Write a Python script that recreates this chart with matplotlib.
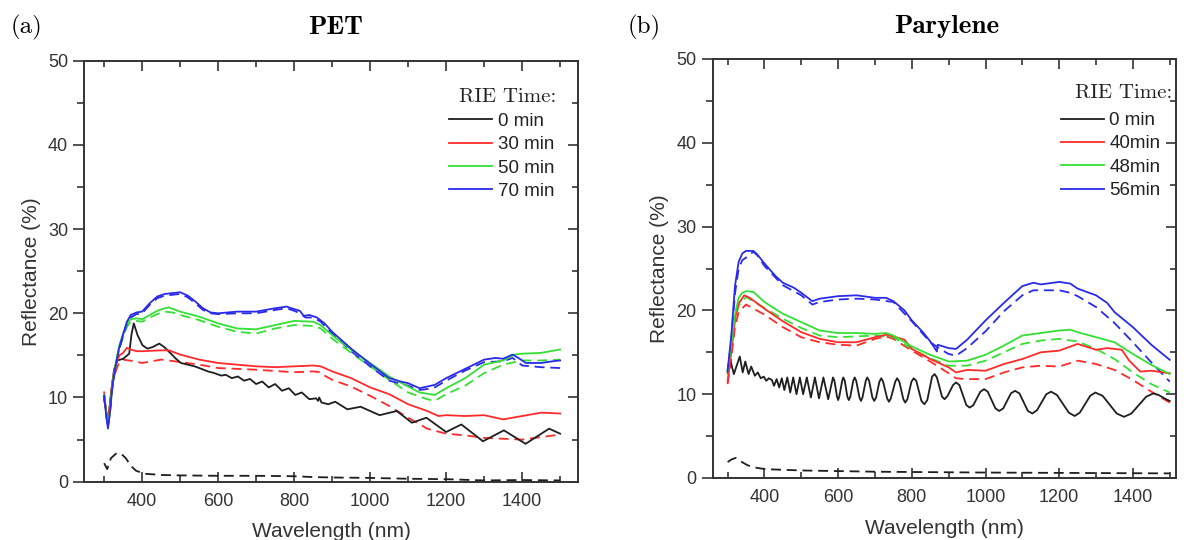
import matplotlib
matplotlib.use("Agg")
import matplotlib.pyplot as plt
from matplotlib.ticker import MultipleLocator

# ---------------- PET (a) ----------------
pet_legend = ["0 min", "30 min", "50 min", "70 min"]

pet_k_x = [300, 305, 310, 318, 326, 335, 350, 366, 372, 378, 388, 401, 414, 428, 445, 458, 476, 489, 502,
           520, 538, 556, 573, 590, 608, 620, 636, 652, 668, 684, 700, 716, 733, 750, 768, 786, 803, 820,
           840, 858, 863, 866, 872, 890, 908, 940, 975, 1025, 1070, 1110, 1148, 1200, 1240, 1297, 1352,
           1409, 1471, 1500]
pet_k_y = [10.0, 8.5, 6.8, 10.5, 13.3, 14.4, 14.6, 15.2, 17.5, 18.8, 17.4, 16.2, 15.8, 16.0, 16.4, 16.0, 15.2,
           14.6, 14.1, 13.9, 13.7, 13.4, 13.1, 12.9, 12.6, 12.7, 12.3, 12.5, 12.0, 12.2, 11.6, 11.9, 11.2,
           11.6, 10.8, 11.1, 10.3, 10.6, 9.8, 9.9, 9.6, 10.0, 9.4, 9.2, 9.5, 8.6, 8.9, 7.9, 8.4, 7.0, 7.6,
           5.9, 6.8, 4.8, 6.1, 4.5, 6.3, 5.7]
pet_kd_x = [300, 308, 318, 333, 345, 357, 370, 384, 406, 450, 500, 600, 700, 800, 850, 900, 1000, 1100,
            1200, 1300, 1400, 1500]
pet_kd_y = [2.2, 1.5, 2.8, 3.4, 3.3, 2.8, 1.9, 1.3, 0.95, 0.8, 0.75, 0.7, 0.7, 0.65, 0.55, 0.5, 0.45, 0.35,
            0.3, 0.15, 0.2, 0.15]

pet_r_x = [300, 305, 310, 316, 322, 331, 340, 350, 360, 370, 385, 400, 450, 470, 500, 550, 600, 650, 700,
           750, 800, 850, 870, 900, 950, 1000, 1050, 1100, 1150, 1180, 1200, 1250, 1300, 1350, 1400, 1450, 1500]
pet_r_y = [10.6, 8.5, 7.2, 9.5, 12.0, 14.0, 15.0, 15.3, 15.9, 15.7, 15.5, 15.5, 15.6, 15.6, 15.1, 14.5, 14.1,
           13.9, 13.7, 13.6, 13.7, 13.8, 13.7, 13.1, 12.3, 11.2, 10.4, 9.2, 8.4, 7.8, 7.9, 7.8, 7.9, 7.4,
           7.8, 8.2, 8.1]
pet_rd_x = [300, 305, 310, 316, 322, 331, 340, 350, 380, 400, 450, 470, 500, 550, 600, 700, 800, 850, 870,
            880, 900, 950, 1000, 1050, 1100, 1150, 1200, 1250, 1300, 1350, 1400, 1450, 1500]
pet_rd_y = [10.3, 8.3, 7.0, 9.2, 11.6, 13.2, 14.2, 14.5, 14.3, 14.1, 14.5, 14.4, 14.2, 13.9, 13.5, 13.3,
            13.0, 13.1, 13.0, 12.6, 12.1, 11.3, 10.2, 9.0, 7.6, 6.3, 5.7, 5.5, 5.2, 5.1, 5.0, 5.3, 5.6]

pet_g_x = [300, 305, 310, 316, 322, 331, 340, 350, 360, 370, 385, 400, 420, 440, 460, 470, 500, 550, 600,
           650, 700, 750, 800, 850, 870, 900, 950, 1000, 1050, 1100, 1130, 1170, 1200, 1250, 1300, 1350,
           1380, 1400, 1450, 1500]
pet_g_y = [10.3, 8.3, 6.7, 8.8, 11.8, 14.2, 16.2, 17.6, 18.8, 19.3, 19.4, 19.3, 19.8, 20.3, 20.6, 20.7,
           20.2, 19.6, 18.8, 18.2, 18.1, 18.6, 19.1, 19.0, 18.6, 17.4, 15.7, 14.1, 12.5, 11.3, 10.6, 10.3,
           11.1, 12.3, 13.9, 14.4, 15.1, 15.2, 15.3, 15.7]
pet_gd_x = [300, 305, 310, 316, 322, 331, 340, 350, 360, 370, 385, 400, 420, 440, 460, 480, 500, 550, 600,
            650, 700, 750, 800, 850, 870, 900, 950, 1000, 1050, 1100, 1150, 1170, 1200, 1250, 1300, 1350,
            1400, 1450, 1500]
pet_gd_y = [10.1, 8.2, 6.7, 8.6, 11.5, 13.9, 15.8, 17.2, 18.4, 19.0, 19.1, 19.0, 19.5, 19.9, 20.2, 20.1,
            19.8, 19.2, 18.4, 17.8, 17.6, 18.2, 18.6, 18.5, 18.2, 17.0, 15.3, 13.7, 12.1, 10.6, 9.8, 9.6,
            10.4, 11.4, 12.9, 13.9, 14.4, 14.4, 14.5]

pet_b_x = [300, 305, 310, 316, 322, 331, 340, 350, 360, 370, 385, 400, 420, 440, 460, 480, 500, 520, 540,
           560, 580, 600, 650, 700, 750, 780, 800, 815, 825, 840, 860, 880, 900, 950, 1000, 1050, 1080,
           1100, 1130, 1150, 1170, 1200, 1250, 1300, 1330, 1350, 1375, 1390, 1410, 1450, 1480, 1500]
pet_b_y = [10.2, 8.0, 6.3, 8.5, 11.5, 14.0, 16.0, 17.5, 19.0, 19.8, 20.1, 20.2, 21.2, 22.0, 22.3, 22.4,
           22.5, 22.1, 21.4, 20.6, 20.1, 20.0, 20.2, 20.2, 20.6, 20.8, 20.5, 20.3, 19.7, 19.8, 19.5, 18.8,
           17.8, 15.8, 14.0, 12.3, 11.9, 11.7, 11.1, 11.3, 11.5, 12.3, 13.4, 14.5, 14.7, 14.6, 15.1, 14.7,
           14.1, 14.1, 14.3, 14.4]
pet_bd_x = [300, 305, 310, 316, 322, 331, 340, 350, 360, 370, 385, 400, 420, 440, 460, 480, 500, 520, 540,
            560, 580, 600, 650, 700, 750, 780, 800, 815, 830, 850, 870, 900, 950, 1000, 1050, 1100, 1130,
            1150, 1170, 1200, 1250, 1300, 1350, 1375, 1400, 1450, 1500]
pet_bd_y = [10.0, 8.0, 6.5, 8.5, 11.3, 13.8, 15.8, 17.3, 18.7, 19.5, 19.9, 20.0, 21.0, 21.8, 22.1, 22.2,
            22.3, 21.9, 21.2, 20.4, 20.0, 19.9, 20.0, 20.0, 20.4, 20.6, 20.3, 20.0, 19.5, 19.5, 19.0, 17.6,
            15.5, 13.7, 12.0, 11.4, 10.9, 11.0, 11.2, 12.0, 13.2, 14.2, 14.3, 14.7, 13.8, 13.6, 13.5]

# ---------------- Parylene (b) ----------------
par_legend = ["0 min", "40min", "48min", "56min"]

par_k_x = [300, 307, 317, 333, 341, 348, 357, 364, 374, 382, 390, 398, 405, 412, 420, 426, 433, 440, 447,
           454, 462, 470, 478, 487, 496, 505, 515, 526, 537, 548, 560, 573, 586,
           590, 597, 600, 603, 611, 614, 618, 625, 629, 633, 641, 645, 649, 658, 662, 666, 675, 679,
           684, 693, 698, 703, 712, 717, 722, 733, 738, 743, 755, 760, 766, 777, 782, 788, 799, 805,
           812, 826, 834, 842, 855, 862, 868, 882, 889, 897, 912, 920,
           929, 948, 957, 967, 986, 996, 1006, 1027, 1037, 1048, 1069, 1080, 1092, 1115, 1127, 1140, 1165,
           1178, 1194, 1226, 1242, 1256, 1284, 1298, 1318, 1356, 1376, 1396, 1436, 1456, 1470, 1490, 1500]
par_k_y = [12.8, 14.1, 12.4, 14.5, 12.6, 13.9, 12.4, 13.3, 12.2, 12.6, 11.9, 12.1, 11.6, 11.9, 11.7, 11.0,
           11.8, 10.8, 11.9, 10.5, 12.0, 10.2, 12.0, 10.0, 12.0, 10.0, 12.0, 9.6, 12.0, 9.5, 12.0, 9.4, 12.0,
           11.6, 9.7, 9.3, 9.7, 11.6, 12.0, 11.6, 9.7, 9.3, 9.7, 11.6, 12.0, 11.6, 9.6, 9.2, 9.6, 11.6, 12.0,
           11.6, 9.6, 9.2, 9.6, 11.5, 11.9, 11.5, 9.5, 9.1, 9.5, 11.5, 11.9, 11.5, 9.4, 9.0, 9.4, 11.5, 11.9,
           11.6, 9.2, 8.8, 9.3, 12.1, 12.4,
           12.0, 9.7, 9.4, 9.8, 11.1, 11.4, 11.1, 8.7, 8.4, 8.7, 10.3, 10.6, 10.3, 8.3, 8.0, 8.3, 10.1, 10.4,
           10.1, 8.0, 7.7, 8.1, 10.0, 10.3, 9.9, 7.8, 7.4, 7.8, 9.8, 10.2, 9.8, 7.7, 7.3, 7.7, 9.7, 10.1,
           9.9, 9.4, 9.2]
par_kd_x = [300, 310, 322, 335, 355, 380, 405, 500, 700, 1000, 1500]
par_kd_y = [1.9, 2.2, 2.4, 2.0, 1.5, 1.2, 1.05, 0.9, 0.75, 0.65, 0.55]

par_r_x = [300, 310, 320, 330, 345, 360, 400, 450, 500, 550, 600, 650, 700, 730, 750, 780, 800, 850, 900,
           920, 950, 1000, 1050, 1100, 1150, 1200, 1250, 1300, 1330, 1370, 1390, 1420, 1450, 1500]
par_r_y = [11.5, 15.0, 19.0, 20.8, 21.8, 21.5, 20.2, 18.7, 17.4, 16.6, 16.2, 16.2, 16.8, 17.1, 16.9, 16.5,
           15.4, 14.2, 13.2, 12.6, 12.9, 12.8, 13.6, 14.2, 15.0, 15.2, 16.0, 15.3, 15.5, 15.3, 14.0, 12.7,
           12.8, 12.5]
par_rd_x = [300, 310, 320, 330, 350, 400, 450, 500, 550, 600, 650, 700, 730, 750, 800, 850, 900, 920, 950,
            1000, 1050, 1100, 1150, 1200, 1250, 1300, 1350, 1400, 1450, 1500]
par_rd_y = [11.2, 14.3, 18.0, 19.8, 20.7, 19.5, 18.0, 16.8, 16.2, 15.9, 15.8, 16.6, 16.9, 16.6, 15.2, 13.9,
            12.5, 11.9, 11.8, 11.8, 12.6, 13.2, 13.4, 13.3, 14.0, 13.6, 12.9, 11.7, 10.3, 9.0]

par_g_x = [300, 310, 320, 330, 340, 350, 370, 400, 450, 500, 550, 600, 650, 700, 730, 750, 800, 850, 900,
           950, 1000, 1050, 1100, 1150, 1200, 1230, 1250, 1300, 1350, 1400, 1450, 1500]
par_g_y = [12.8, 16.0, 19.5, 21.5, 22.1, 22.3, 22.2, 21.0, 19.6, 18.6, 17.6, 17.3, 17.3, 17.2, 17.3, 17.0,
           15.7, 14.7, 13.9, 14.0, 14.7, 15.8, 17.0, 17.3, 17.6, 17.7, 17.4, 16.8, 16.2, 14.8, 13.5, 12.4]
par_gd_x = [300, 310, 320, 330, 350, 400, 450, 500, 550, 600, 650, 700, 750, 800, 850, 900, 950, 1000,
            1050, 1100, 1150, 1200, 1250, 1300, 1350, 1400, 1450, 1500]
par_gd_y = [12.3, 15.3, 18.8, 20.6, 21.6, 20.3, 19.0, 17.9, 17.0, 16.8, 16.9, 17.0, 16.8, 15.4, 14.3, 13.4,
            13.4, 14.0, 15.0, 16.0, 16.4, 16.6, 16.3, 15.4, 14.2, 12.6, 11.2, 10.2]

par_b_x = [300, 310, 320, 330, 340, 350, 370, 380, 400, 430, 450, 480, 500, 530, 550, 600, 650, 700, 730,
           750, 780, 800, 830, 850, 868, 870, 900, 920, 950, 1000, 1050, 1100, 1130, 1150, 1200, 1230, 1250,
           1300, 1330, 1350, 1400, 1450, 1500]
par_b_y = [12.8, 17.0, 22.9, 25.8, 26.8, 27.1, 27.1, 26.7, 25.6, 24.1, 23.3, 22.7, 22.1, 21.1, 21.4, 21.7,
           21.8, 21.5, 21.5, 21.1, 20.0, 18.8, 17.4, 16.3, 15.1, 15.9, 15.5, 15.4, 16.5, 18.8, 20.9, 22.9,
           23.3, 23.1, 23.4, 23.2, 22.6, 21.8, 20.9, 19.8, 18.0, 15.9, 14.1]
par_bd_x = [300, 310, 320, 330, 340, 350, 370, 380, 400, 450, 500, 530, 550, 600, 650, 700, 750, 800, 850,
            880, 900, 920, 950, 1000, 1050, 1100, 1130, 1150, 1200, 1230, 1250, 1300, 1350, 1400, 1450, 1500]
par_bd_y = [12.5, 16.5, 22.0, 25.0, 26.0, 26.3, 27.0, 26.6, 25.3, 23.0, 21.8, 20.7, 21.0, 21.3, 21.4, 21.3,
            21.0, 18.7, 16.2, 15.3, 14.8, 14.6, 15.5, 17.5, 19.9, 21.8, 22.4, 22.4, 22.4, 22.1, 21.7, 20.4,
            18.5, 16.2, 13.8, 11.5]

# ---------------- styling ----------------
C_K, C_R, C_G, C_B = "#1e1e1e", "#ff2a2a", "#33e033", "#2a2aea"
SPINE = "#333333"
LW = 1.3
DASH = (0, (5.5, 3.2))
SANS = "Liberation Sans"

fig = plt.figure(figsize=(11.92, 5.40), dpi=100)
axL = fig.add_axes([84 / 1192, 1 - 481.7 / 540, 494 / 1192, 421 / 540])
axR = fig.add_axes([712.5 / 1192, 1 - 478 / 540, 463.5 / 1192, 419 / 540])


def draw(ax, series, labels):
    handles = []
    for (xs, ys, xd, yd, c) in series:
        ax.plot(xd, yd, color=c, lw=LW, linestyle=DASH)
    for (xs, ys, xd, yd, c), lab in zip(series, labels):
        h, = ax.plot(xs, ys, color=c, lw=LW, label=lab)
        handles.append(h)
    return handles


def style(ax, xlim):
    ax.set_xlim(*xlim)
    ax.set_ylim(0, 50)
    ax.xaxis.set_major_locator(MultipleLocator(200))
    ax.xaxis.set_minor_locator(MultipleLocator(100))
    ax.yaxis.set_major_locator(MultipleLocator(10))
    ax.yaxis.set_minor_locator(MultipleLocator(5))
    for s in ax.spines.values():
        s.set_linewidth(1.4)
        s.set_color(SPINE)
    ax.spines["right"].set_visible(False)
    ax.tick_params(axis="x", which="both", direction="in", top=True, bottom=True,
                   width=1.2, color=SPINE, labelsize=13, labelcolor="#333333", pad=8)
    ax.tick_params(axis="x", which="major", length=7)
    ax.tick_params(axis="x", which="minor", length=4)
    ax.tick_params(axis="y", which="both", direction="out", left=True, right=False,
                   width=1.2, color=SPINE, labelsize=13, labelcolor="#333333", pad=3.5)
    ax.tick_params(axis="y", which="major", length=8)
    ax.tick_params(axis="y", which="minor", length=5)
    for lab in ax.get_xticklabels() + ax.get_yticklabels():
        lab.set_fontfamily(SANS)
    sec = ax.secondary_yaxis("right")
    sec.yaxis.set_major_locator(MultipleLocator(10))
    sec.yaxis.set_minor_locator(MultipleLocator(5))
    sec.spines["right"].set_linewidth(1.4)
    sec.spines["right"].set_color(SPINE)
    sec.tick_params(which="both", direction="in", labelright=False, width=1.2, color=SPINE)
    sec.tick_params(which="major", length=7)
    sec.tick_params(which="minor", length=4)
    ax.set_xlabel("Wavelength (nm)", fontfamily=SANS, fontsize=15, color="#333333", labelpad=9)
    ax.set_ylabel("Reflectance (%)", fontfamily=SANS, fontsize=15, color="#333333", labelpad=5)


hL = draw(axL, [(pet_k_x, pet_k_y, pet_kd_x, pet_kd_y, C_K),
                (pet_r_x, pet_r_y, pet_rd_x, pet_rd_y, C_R),
                (pet_g_x, pet_g_y, pet_gd_x, pet_gd_y, C_G),
                (pet_b_x, pet_b_y, pet_bd_x, pet_bd_y, C_B)], pet_legend)
hR = draw(axR, [(par_k_x, par_k_y, par_kd_x, par_kd_y, C_K),
                (par_r_x, par_r_y, par_rd_x, par_rd_y, C_R),
                (par_g_x, par_g_y, par_gd_x, par_gd_y, C_G),
                (par_b_x, par_b_y, par_bd_x, par_bd_y, C_B)], par_legend)

style(axL, (247, 1547))
style(axR, (259, 1517))

for ax, h, labs, anchor, tpos in [(axL, hL, pet_legend, (0.952, 0.876), (0.9555, 0.9145)),
                                  (axR, hR, par_legend, (0.967, 0.8735), (0.9914, 0.918))]:
    leg = ax.legend(h, labs, loc="upper right", bbox_to_anchor=anchor,
                    frameon=False, handlelength=2.3, handletextpad=0.3,
                    labelspacing=0.33, borderpad=0, borderaxespad=0,
                    prop={"family": SANS, "size": 13.5})
    for t in leg.get_texts():
        t.set_color("#222222")
    ax.text(tpos[0], tpos[1], "RIE Time:", transform=ax.transAxes, ha="right", va="center",
            fontfamily="cmr10", fontsize=15, color="#222222")

fig.text(0.0085, 0.95, "(a)", fontfamily="cmr10", fontsize=18, va="center", ha="left")
fig.text(0.5265, 0.95, "(b)", fontfamily="cmr10", fontsize=18, va="center", ha="left")
fig.text(336 / 1192, 0.95, "PET", fontfamily="cmb10", fontsize=19.5, va="center", ha="center")
fig.text(947 / 1192, 0.95, "Parylene", fontfamily="cmb10", fontsize=19.5, va="center", ha="center")

fig.savefig("out.png", dpi=100, facecolor="white")
